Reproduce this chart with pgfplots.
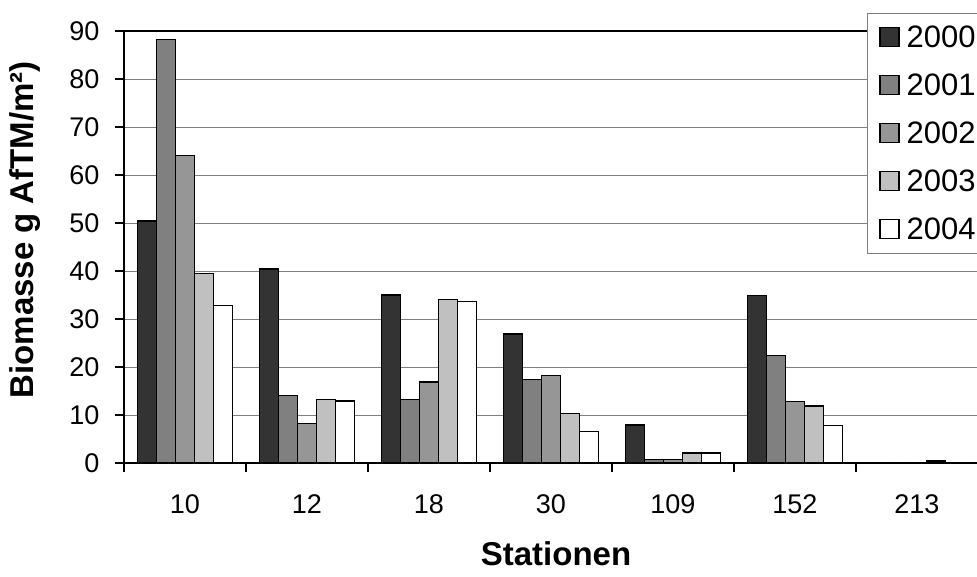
\documentclass[border=0pt]{standalone}
\usepackage{fontspec}
\setmainfont{Liberation Sans}
\usepackage{pgfplots}
\pgfplotsset{compat=1.18}
\definecolor{cA}{HTML}{333333}
\definecolor{cB}{HTML}{808080}
\definecolor{cC}{HTML}{969696}
\definecolor{cD}{HTML}{C0C0C0}
\definecolor{cE}{HTML}{FFFFFF}
\definecolor{gridc}{HTML}{808080}
\begin{document}
\begin{tikzpicture}
\path[use as bounding box] (-124pt,-113pt) rectangle (853pt,463pt);
\begin{axis}[
  at={(0pt,0pt)}, anchor=south west,
  scale only axis, width=854pt, height=432pt,
  xmin=-0.5, xmax=6.5, ymin=0, ymax=90,
  ybar=0pt, bar width=19pt,
  axis line style={black, line width=1.3pt},
  xtick={-0.5,0.5,...,6.5},
  x tick label as interval,
  xticklabels={10,12,18,30,109,152,213},
  ytick={0,10,...,90},
  tick align=outside,
  major tick length=9pt,
  tick style={black, line width=1.3pt},
  xtick pos=bottom, ytick pos=left,
  ymajorgrids, grid style={gridc, line width=1pt},
  /pgf/number format/assume math mode=true,
  ticklabel style={font=\fontsize{27}{31}\selectfont},
  yticklabel style={xshift=-12pt},
  xticklabel style={yshift=-19pt},
  ylabel={\textbf{Biomasse g AfTM/m²)}},
  ylabel style={font=\fontsize{33}{38}\selectfont, at={(rel axis cs:0,0.54)}, anchor=center, yshift=99pt},
  xlabel={\textbf{Stationen}},
  xlabel style={font=\fontsize{33}{38}\selectfont, at={(rel axis cs:0.5,0)}, anchor=center, yshift=-91pt, xshift=5pt},
  legend cell align=left,
  legend style={at={(rel axis cs:0.870,1.042)}, anchor=north west,
    draw=gridc, line width=1pt, fill=white,
    font=\fontsize{31}{36}\selectfont,
    inner xsep=12pt, inner ysep=0pt, row sep=0pt,
    nodes={inner ysep=0pt, inner xsep=7pt, minimum height=48pt}},
  legend image code/.code={\draw[#1, line width=1.2pt] (0pt,-9.5pt) rectangle (19pt,9.5pt);},
]
\addplot[fill=cA, draw=black, line width=1.3pt] coordinates {(0,50.4) (1,40.4) (2,35.0) (3,26.9) (4,7.9) (5,34.9) (6,0)};
\addplot[fill=cB, draw=black, line width=1.3pt] coordinates {(0,88.3) (1,14.1) (2,13.2) (3,17.4) (4,0.7) (5,22.4) (6,0)};
\addplot[fill=cC, draw=black, line width=1.3pt] coordinates {(0,64.1) (1,8.3) (2,16.9) (3,18.2) (4,0.7) (5,12.8) (6,0)};
\addplot[fill=cD, draw=black, line width=1.3pt] coordinates {(0,39.5) (1,13.3) (2,34.1) (3,10.3) (4,2.1) (5,11.9) (6,0.4)};
\addplot[fill=cE, draw=black, line width=1.3pt] coordinates {(0,32.8) (1,12.9) (2,33.6) (3,6.5) (4,2.1) (5,7.8) (6,0)};
\legend{2000,2001,2002,2003,2004}
\end{axis}
\end{tikzpicture}
\end{document}
